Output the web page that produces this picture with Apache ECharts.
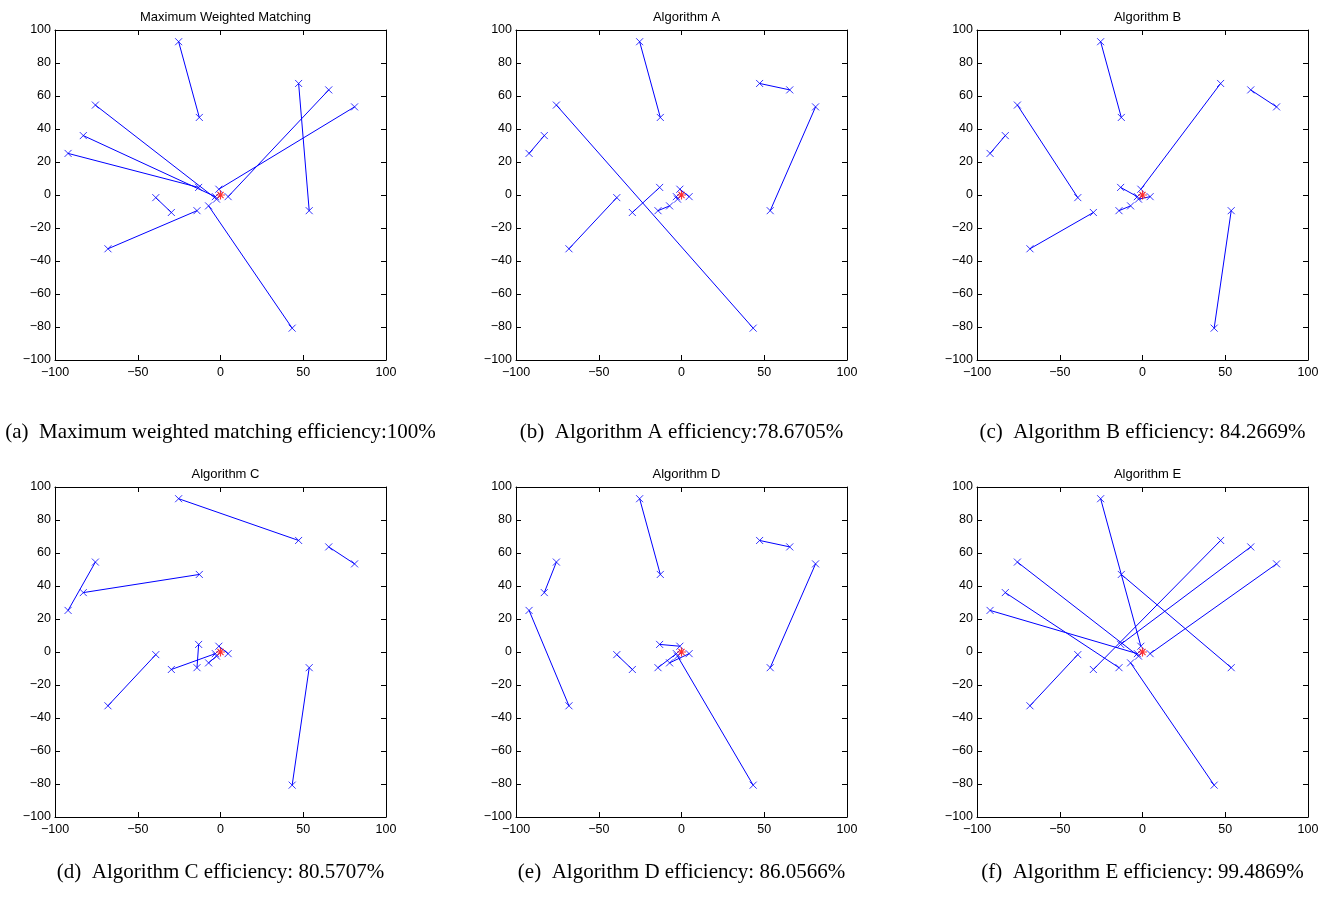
<!DOCTYPE html>
<html>
<head>
<meta charset="utf-8">
<script src="https://cdn.jsdelivr.net/npm/echarts@6/dist/echarts.min.js"></script>
<style>
html,body{margin:0;padding:0;background:#fff;}
#chart{width:1325px;height:898px;}
</style>
</head>
<body>
<div id="chart"></div>
<script>
// Node coordinates (shared by every panel)
const pointX = [-25.3, -12.8, 47.2, 65.4, 81.0, 53.6, -75.6, -82.9, -92.1, -13.2, -1.0, 4.6, -3.1, -2.4, -39.1, -29.7, -14.2, -7.2, -68.0, 43.3];
const pointY = [92.9, 47.0, 67.6, 63.7, 53.4, -9.5, 54.5, 36.0, 25.2, 4.6, 3.5, -1.0, -1.0, -2.5, -1.6, -10.6, -9.5, -6.6, -32.6, -80.7];
// Center (red star)
const centerX = [0];
const centerY = [0];

// Matchings (index pairs into the point arrays)
const edgesMWM = [[0,1],[2,5],[3,11],[4,10],[8,9],[7,12],[6,13],[14,15],[18,16],[17,19]];
const edgesA   = [[0,1],[2,3],[4,5],[8,7],[6,19],[18,14],[15,9],[16,17],[10,11],[12,13]];
const edgesB   = [[0,1],[2,10],[3,4],[19,5],[8,7],[6,14],[18,15],[16,17],[9,12],[13,11]];
const edgesC   = [[0,2],[3,4],[6,8],[7,1],[18,14],[19,5],[9,16],[15,12],[17,13],[10,11]];
const edgesD   = [[0,1],[2,3],[4,5],[7,6],[8,18],[14,15],[9,10],[16,12],[17,11],[13,19]];
const edgesE   = [[0,10],[1,5],[2,15],[3,9],[4,11],[6,13],[7,16],[8,12],[18,14],[17,19]];

const panelTitles = ['Maximum Weighted Matching', 'Algorithm A', 'Algorithm B', 'Algorithm C', 'Algorithm D', 'Algorithm E'];
const captions = [
  '(a)  Maximum weighted matching efficiency:100%',
  '(b)  Algorithm A efficiency:78.6705%',
  '(c)  Algorithm B efficiency: 84.2669%',
  '(d)  Algorithm C efficiency: 80.5707%',
  '(e)  Algorithm D efficiency: 86.0566%',
  '(f)  Algorithm E efficiency: 99.4869%'
];
const xTicks = {min: -100, max: 100, interval: 50};
const yTicks = {min: -100, max: 100, interval: 20};

const allEdges = [edgesMWM, edgesA, edgesB, edgesC, edgesD, edgesE];

const colLeft = [55, 516, 977];
const rowTop = [30, 487];
const plotW = 331, plotH = 330;

const chart = echarts.init(document.getElementById('chart'));
const fmt = v => String(v).replace('-', '\u2212');
const labelFont = {fontFamily: 'Liberation Sans, Arial, sans-serif', fontSize: 12.5, color: '#000'};

const grids = [], xAxes = [], yAxes = [], series = [], titles = [], graphics = [];
const crossPath = 'path://M0,0L10,10M10,0L0,10';
const starPath = 'path://M5,0L5,10M0,5L10,5M1.6,1.6L8.4,8.4M8.4,1.6L1.6,8.4';

for (let i = 0; i < 6; i++) {
  const c = i % 3, r = Math.floor(i / 3);
  const left = colLeft[c], top = rowTop[r];
  grids.push({left: left, top: top, width: plotW, height: plotH, containLabel: false});
  const common = {
    type: 'value', gridIndex: i, scale: false,
    axisLine: {show: true, onZero: false, lineStyle: {color: '#000', width: 1}},
    axisTick: {show: true, inside: true, length: 5, lineStyle: {color: '#000'}},
    splitLine: {show: false}
  };
  xAxes.push(Object.assign({}, common, xTicks, {position: 'bottom',
    axisLabel: Object.assign({show: true, margin: 6, formatter: fmt, showMinLabel: true, showMaxLabel: true}, labelFont)}));
  xAxes.push(Object.assign({}, common, xTicks, {position: 'top', axisLabel: {show: false}}));
  yAxes.push(Object.assign({}, common, yTicks, {position: 'left',
    axisLabel: Object.assign({show: true, margin: 4, formatter: fmt, showMinLabel: true, showMaxLabel: true}, labelFont)}));
  yAxes.push(Object.assign({}, common, yTicks, {position: 'right', axisLabel: {show: false}}));

  series.push({
    type: 'lines', coordinateSystem: 'cartesian2d', xAxisIndex: 2 * i, yAxisIndex: 2 * i,
    silent: true, polyline: false,
    lineStyle: {color: '#0000ff', width: 1, opacity: 1},
    data: allEdges[i].map(([a, b]) => ({coords: [[pointX[a], pointY[a]], [pointX[b], pointY[b]]]}))
  });
  series.push({
    type: 'scatter', xAxisIndex: 2 * i, yAxisIndex: 2 * i, silent: true,
    symbol: crossPath, symbolSize: 7,
    itemStyle: {color: 'transparent', borderColor: '#0000ff', borderWidth: 1},
    data: pointX.map((x, k) => [x, pointY[k]])
  });
  series.push({
    type: 'scatter', xAxisIndex: 2 * i, yAxisIndex: 2 * i, silent: true,
    symbol: starPath, symbolSize: 9, z: 5,
    itemStyle: {color: 'transparent', borderColor: '#ff0000', borderWidth: 1.2},
    data: centerX.map((x, k) => [x, centerY[k]])
  });

  titles.push({
    text: panelTitles[i], left: left + plotW / 2, top: top - 24, textAlign: 'center',
    textStyle: {fontFamily: 'Liberation Sans, Arial, sans-serif', fontSize: 13, fontWeight: 'normal', color: '#000'}
  });
  graphics.push({
    type: 'text', x: left + plotW / 2, y: r === 0 ? 432 : 872,
    style: {text: captions[i], textAlign: 'center', textVerticalAlign: 'middle',
      font: '21px "Liberation Serif", "Times New Roman", serif', fill: '#000'}
  });
}

chart.setOption({
  animation: false,
  backgroundColor: '#fff',
  title: titles,
  grid: grids,
  xAxis: xAxes,
  yAxis: yAxes,
  series: series,
  graphic: graphics
});
</script>
</body>
</html>
